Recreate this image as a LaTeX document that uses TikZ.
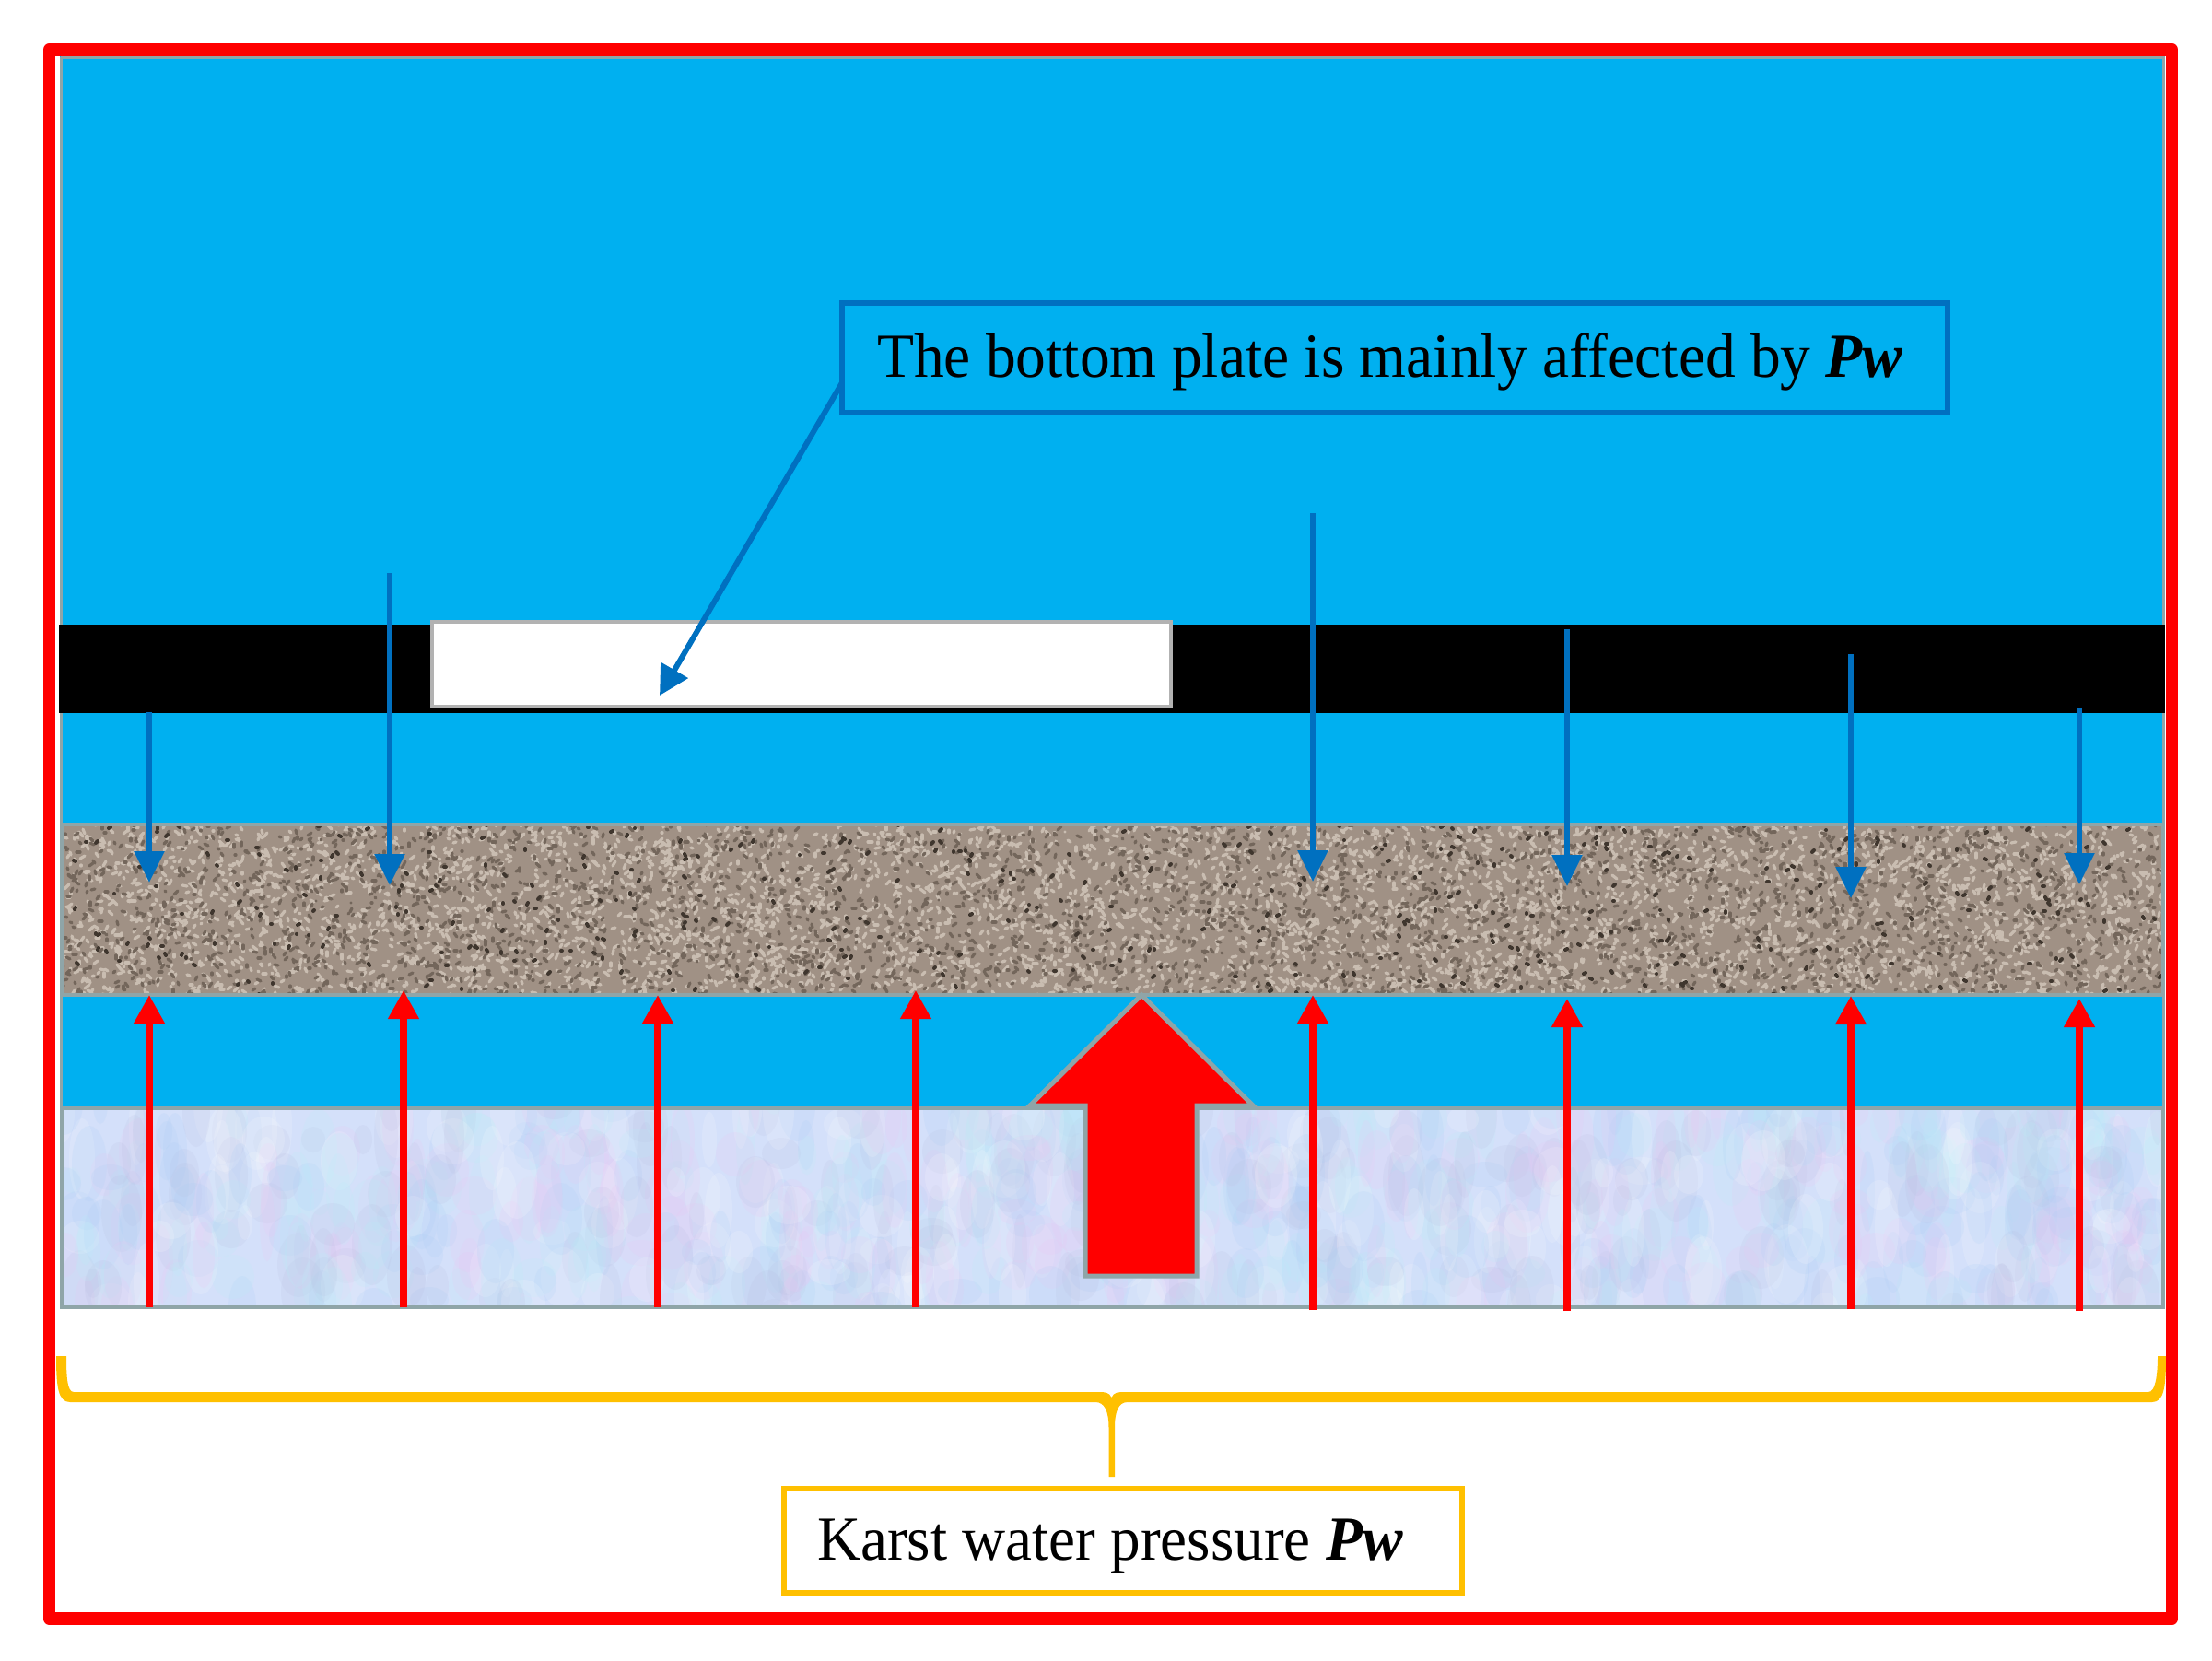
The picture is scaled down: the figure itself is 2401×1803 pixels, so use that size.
\documentclass[tikz,border=0pt]{standalone}
\usepackage{fontspec}
\setmainfont{Liberation Serif}
\usetikzlibrary{arrows.meta}
\definecolor{water}{HTML}{00B0F0}
\definecolor{edgegray}{HTML}{8FA5A8}
\definecolor{arrowblue}{HTML}{0070C0}
\definecolor{brace}{HTML}{FFC000}
\definecolor{gravelbase}{HTML}{A09185}
\definecolor{graveldark}{HTML}{73665B}
\definecolor{gravelblack}{HTML}{3F362E}
\definecolor{gravellight}{HTML}{C9BDB1}
\definecolor{icebase}{HTML}{D4E0FA}
\definecolor{icepink}{HTML}{EDC4F2}
\definecolor{icecyan}{HTML}{B8F0F8}
\definecolor{iceblue}{HTML}{A8CCF4}
\definecolor{icegray}{HTML}{B8BCE0}
\tikzset{
  bluearrow/.style={draw=arrowblue,line width=5.5pt,-{Triangle[width=32pt,length=34pt]}},
  redarrow/.style={draw=red,line width=7.5pt,-{Triangle[width=32pt,length=31pt]}},
  labelbox/.style={draw,line width=6.5pt,inner sep=0pt,outer sep=0pt,anchor=north west,font=\fontsize{68}{68}\selectfont},
}
\newcommand{\pwtext}{\textbf{\textit{Pw}}}
\newcommand{\speckle}[5]{% count, colour, width, reach
  \begin{scope}[draw=#2,line width=#3pt,line cap=round]
  \foreach \n in {1,...,#1}{
    \pgfmathrandominteger{\xa}{67}{2348}\pgfmathrandominteger{\ya}{895}{1080}
    \pgfmathrandominteger{\dx}{-#4}{#4}\pgfmathrandominteger{\dy}{-#5}{#5}
    \draw (\xa,\ya) -- ++(\dx,\dy);
  }
  \end{scope}}
\begin{document}
\begin{tikzpicture}[x=1pt,y=-1pt]
\useasboundingbox (0,0) rectangle (2401,1803);
\fill[white] (0,0) rectangle (2401,1803);
% water background
\fill[water] (65,61) rectangle (2350,1420);
\draw[edgegray,line width=3pt] (66,62.5) -- (2348,62.5) -- (2348,1420) (66,62.5) -- (66,1420);
% black plate
\fill[black] (64,678) rectangle (2350,774);
% gravel layer
\fill[gravelbase] (67,895) rectangle (2348,1080);
\begin{scope}
\clip (67,895) rectangle (2348,1080);
\pgfmathsetseed{42}
\speckle{5000}{gravellight}{3.2}{5}{5}
\speckle{3000}{graveldark}{3.2}{4}{4}
\speckle{450}{gravelblack}{4}{2}{2}
\end{scope}
\draw[edgegray,line width=4pt] (67,895) rectangle (2348,1080);
% limestone layer
\fill[icebase] (67,1203) rectangle (2348,1419);
\begin{scope}
\clip (67,1203) rectangle (2348,1419);
\pgfmathsetseed{7}
\foreach \n in {1,...,1000}{
  \pgfmathrandominteger{\xa}{60}{2355}\pgfmathrandominteger{\ya}{1195}{1425}
  \pgfmathrandominteger{\ra}{8}{24}\pgfmathrandominteger{\rb}{14}{44}
  \pgfmathrandominteger{\cc}{1}{5}
  \ifcase\cc\or\def\cn{icepink}\or\def\cn{icecyan}\or\def\cn{iceblue}\or\def\cn{white}\or\def\cn{icegray}\fi
  \fill[\cn,opacity=.16] (\xa,\ya) ellipse ({\ra pt} and {\rb pt});
}
\end{scope}
\draw[edgegray,line width=4pt] (67,1203) rectangle (2348,1419);
% white opening
\node[name=opening,draw=black!30,line width=4pt,fill=white,inner sep=0pt,outer sep=0pt,anchor=north west,minimum width=802pt,minimum height=92pt] at (469,675) {};
% big arrow
\draw[edgegray,fill=red,line width=5pt,line join=miter,name=bigarrow] (1239,1080) -- (1360,1200) -- (1299,1200) -- (1299,1385) -- (1178,1385) -- (1178,1200) -- (1118,1200) -- cycle;
% down arrows
\foreach \k/\xx/\ya/\yb in {1/162/773/958,2/423/622/961,3/1425/557/957,4/1701/683/962,5/2009/710/975,6/2257/769/960}{
  \coordinate (dt\k) at (\xx,\ya);
  \coordinate (dh\k) at (\xx,\yb);
  \draw[bluearrow] (dt\k) -- (dh\k);
}
% up arrows
\foreach \k/\xx/\yb/\ya in {1/162/1419/1080,2/438/1419/1075,3/714/1419/1080,4/994/1419/1075,5/1425/1422/1080,6/1701/1423/1084,7/2009/1421/1081,8/2257/1423/1084}{
  \coordinate (ut\k) at (\xx,\yb);
  \coordinate (uh\k) at (\xx,\ya);
  \draw[redarrow] (ut\k) -- (uh\k);
}
% labels
\node[labelbox,draw=arrowblue,name=plate,text height=80pt,text depth=39pt] at (914,329)
  {\makebox[1200pt][l]{\hspace{38pt}\scalebox{0.963}[1]{The bottom plate is mainly affected by \pwtext}}};
\coordinate (openhead) at (716,755);
\coordinate (platefoot) at ([yshift=-27pt]plate.west);
\draw[draw=arrowblue,line width=6pt,-{Triangle[width=33pt,length=32pt]}] (platefoot) -- (openhead);
% brace
\fill[brace] (61,1472) -- (72,1472) .. controls (72,1495) and (73,1511) .. (80,1511) -- (1192,1511) .. controls (1199,1511) and (1204,1511) .. (1206.5,1517) .. controls (1209,1511) and (1214,1511) .. (1221,1511) -- (2332,1511) .. controls (2339,1511) and (2342,1495) .. (2342,1472) -- (2351,1472) .. controls (2351,1505) and (2349,1522) .. (2336,1522) -- (1224,1522) .. controls (1214,1522) and (1210,1532) .. (1210,1550) -- (1210,1603) -- (1203.5,1603) -- (1203.5,1550) .. controls (1203.5,1532) and (1199,1522) .. (1189,1522) -- (76,1522) .. controls (63,1522) and (61,1505) .. (61,1472) -- cycle;
\node[labelbox,draw=brace,fill=white,name=karst,text height=77pt,text depth=36pt] at (851,1616)
  {\makebox[736pt][l]{\hspace{36pt}\scalebox{0.959}[1]{Karst water pressure \pwtext}}};
% outer frame
\draw[red,line width=13.5pt,line join=round] (53.5,54) rectangle (2357.5,1757);
\end{tikzpicture}
\end{document}
